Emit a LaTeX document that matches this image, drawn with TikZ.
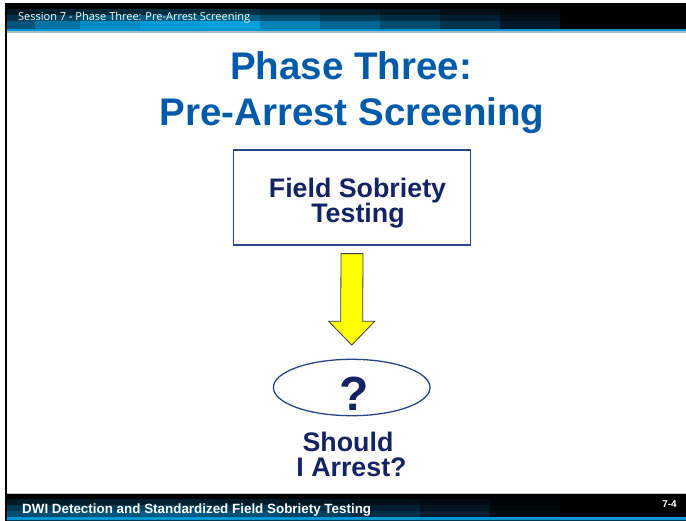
\documentclass[tikz,border=0pt]{standalone}
\usepackage{fontspec}
\setmainfont{Liberation Sans}
\newfontfamily\hdrfont{Open Sans}
\usetikzlibrary{calc,shapes.geometric}
\definecolor{titleblue}{RGB}{0,90,170}
\definecolor{navy}{RGB}{20,35,100}
\definecolor{edgeblue}{RGB}{40,70,140}
\definecolor{lineblue}{RGB}{0,150,210}
\definecolor{linedark}{RGB}{0,80,120}
\definecolor{linegray}{RGB}{165,188,200}
\definecolor{arrowyellow}{RGB}{255,255,0}
\definecolor{arrowedge}{RGB}{60,60,60}
% top bar column colours
\definecolor{ta}{RGB}{0,85,120}
\definecolor{tb}{RGB}{0,115,165}
\definecolor{tc}{RGB}{0,140,195}
\definecolor{td}{RGB}{0,155,215}
\definecolor{te}{RGB}{0,160,218}
\definecolor{tf}{RGB}{0,130,180}
\definecolor{tg}{RGB}{0,100,145}
\definecolor{th}{RGB}{0,75,110}
\definecolor{ti}{RGB}{0,50,75}
\definecolor{tj}{RGB}{0,25,40}
% bottom bar column colours
\definecolor{ba}{RGB}{0,78,115}
\definecolor{bb}{RGB}{0,85,125}
\definecolor{bc}{RGB}{0,92,135}
\definecolor{bd}{RGB}{0,80,120}
\definecolor{be}{RGB}{0,65,100}
\definecolor{bf}{RGB}{0,45,70}
\definecolor{bg}{RGB}{0,28,45}
\definecolor{bh}{RGB}{0,12,20}
\tikzset{
  titletext/.style={text=titleblue, font=\bfseries\fontsize{38.5}{40}\selectfont, inner sep=0pt, anchor=base},
  bodytext/.style={text=navy, font=\bfseries\fontsize{26.8}{28}\selectfont, inner sep=0pt, anchor=base},
  framebox/.style={draw=edgeblue, line width=1.3pt, inner sep=0pt},
  bigarrow/.style={fill=arrowyellow, draw=arrowedge, line width=0.8pt, line join=miter}
}
\begin{document}
\begin{tikzpicture}[x=1pt,y=-1pt]
\useasboundingbox (0,0) rectangle (686,521);
\fill[white] (0,0) rectangle (686,521);
% ---- top bar
\fill[black] (5,3) rectangle (686,29);
\fill[ta!30!black] (5,9) rectangle (35,15);   \fill[ta!60!black] (5,15) rectangle (35,21);   \fill[ta] (5,21) rectangle (35,29);
\fill[tb!30!black] (35,9) rectangle (80,15);  \fill[tb!60!black] (35,15) rectangle (80,21);  \fill[tb] (35,21) rectangle (80,29);
\fill[tc!30!black] (80,9) rectangle (140,15); \fill[tc!60!black] (80,15) rectangle (140,21); \fill[tc] (80,21) rectangle (140,29);
\fill[td!30!black] (140,9) rectangle (200,15); \fill[td!60!black] (140,15) rectangle (200,21); \fill[td] (140,21) rectangle (200,29);
\fill[te!30!black] (200,9) rectangle (260,15); \fill[te!60!black] (200,15) rectangle (260,21); \fill[te] (200,21) rectangle (260,29);
\fill[tf!30!black] (260,9) rectangle (320,15); \fill[tf!60!black] (260,15) rectangle (320,21); \fill[tf] (260,21) rectangle (320,29);
\fill[tg!30!black] (320,9) rectangle (380,15); \fill[tg!60!black] (320,15) rectangle (380,21); \fill[tg] (320,21) rectangle (380,29);
\fill[th!30!black] (380,9) rectangle (440,15); \fill[th!60!black] (380,15) rectangle (440,21); \fill[th] (380,21) rectangle (440,29);
\fill[ti!30!black] (440,9) rectangle (500,15); \fill[ti!60!black] (440,15) rectangle (500,21); \fill[ti] (440,21) rectangle (500,29);
\fill[tj!30!black] (500,9) rectangle (560,15); \fill[tj!60!black] (500,15) rectangle (560,21); \fill[tj] (500,21) rectangle (560,29);
\fill[lineblue] (5,29) rectangle (686,31);
\fill[linegray] (5,31) rectangle (686,33);
% ---- bottom bar
\fill[gray!45] (5,492.5) rectangle (686,494);
\fill[black] (5,494) rectangle (686,517);
\fill[ba!35!black] (5,499) rectangle (70,505);    \fill[ba!70!black] (5,505) rectangle (70,511);    \fill[ba] (5,511) rectangle (70,517);
\fill[bb!35!black] (70,499) rectangle (140,505);  \fill[bb!70!black] (70,505) rectangle (140,511);  \fill[bb] (70,511) rectangle (140,517);
\fill[bc!35!black] (140,499) rectangle (210,505); \fill[bc!70!black] (140,505) rectangle (210,511); \fill[bc] (140,511) rectangle (210,517);
\fill[bd!35!black] (210,499) rectangle (280,505); \fill[bd!70!black] (210,505) rectangle (280,511); \fill[bd] (210,511) rectangle (280,517);
\fill[be!35!black] (280,499) rectangle (350,505); \fill[be!70!black] (280,505) rectangle (350,511); \fill[be] (280,511) rectangle (350,517);
\fill[bf!35!black] (350,499) rectangle (420,505); \fill[bf!70!black] (350,505) rectangle (420,511); \fill[bf] (350,511) rectangle (420,517);
\fill[bg!35!black] (420,499) rectangle (490,505); \fill[bg!70!black] (420,505) rectangle (490,511); \fill[bg] (420,511) rectangle (490,517);
\fill[bh!35!black] (490,499) rectangle (560,505); \fill[bh!70!black] (490,505) rectangle (560,511); \fill[bh] (490,511) rectangle (560,517);
\fill[lineblue] (5,516.5) rectangle (686,519.5);
\fill[linedark!70!black] (5,519.5) rectangle (686,521);
% left frame line
\fill[black] (4.7,3) rectangle (7,521);
% header/footer texts
\node[anchor=base west, text=white, inner sep=0pt, font=\hdrfont\fontsize{11}{12}\selectfont] (hdr) at (18,20.7) {Session 7 - Phase Three: Pre-Arrest Screening};
\node[anchor=base west, text=white, inner sep=0pt, font=\bfseries\fontsize{13.4}{15}\selectfont] (ftr) at (22,513.3) {DWI Detection and Standardized Field Sobriety Testing};
\node[anchor=base east, text=white, inner sep=0pt, font=\bfseries\fontsize{10}{12}\selectfont] (pg) at (677,507) {7-4};
% title
\node[titletext] (t1) at (351,80) {Phase Three:};
\node[titletext] (t2) at (352,126) {Pre-Arrest Screening};
% box
\node[framebox, minimum width=237.4pt, minimum height=95pt] (box) at (352,197.5) {};
\node[bodytext] (bt1) at (357.5,198) {Field Sobriety};
\node[bodytext] (bt2) at (358,223) {Testing};
% ellipse
\node[ellipse, framebox, minimum width=156.6pt, minimum height=56.4pt] (ell) at (351.7,387.5) {};
\node[text=navy, font=\bfseries\fontsize{48}{48}\selectfont, inner sep=0pt, anchor=base] (q) at (354,410) {?};
% arrow
\coordinate (atop) at ($(box.south)+(0,8)$);
\coordinate (atip) at ($(ell.north)+(0,-13.6)$);
\coordinate (hs) at ($(atip)+(0,-23.7)$);
\draw[bigarrow] ($(atop)+(-11,0)$) -- ($(atop)+(11,0)$) -- ($(hs)+(11,0)$) -- ($(hs)+(23,0)$) -- (atip) -- ($(hs)+(-23,0)$) -- ($(hs)+(-11,0)$) -- cycle;
% question text
\node[bodytext] (s1) at (348,451.5) {Should};
\node[bodytext] (s2) at (351.5,476) {I Arrest?};
\end{tikzpicture}
\end{document}
